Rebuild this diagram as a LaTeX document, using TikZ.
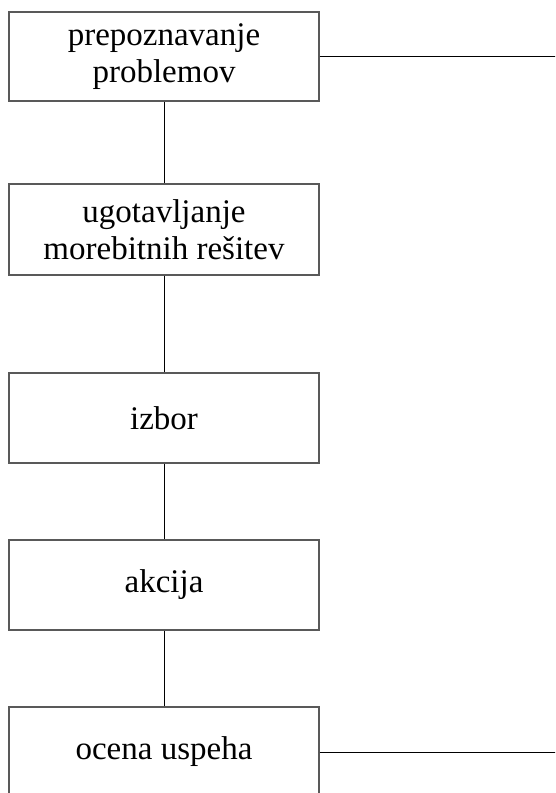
\documentclass[tikz,border=0pt]{standalone}
\usepackage{fontspec}
\setmainfont{Liberation Serif}
\begin{document}
\begin{tikzpicture}[x=1pt,y=-1pt,
  stage/.style={draw=black!65, line width=1.2pt, minimum width=310pt, minimum height=90pt,
    inner sep=0pt, align=center, font=\fontsize{33}{37}\selectfont},
  link/.style={draw=black, line width=0.8pt}]
\useasboundingbox (0,0) rectangle (555,793);
\clip (0,0) rectangle (555,793);
\node[stage, minimum height=89pt] (s1) at (164,56.5) {prepoznavanje\\problemov};
\node[stage, minimum height=91pt] (s2) at (164,229.5) {ugotavljanje\\morebitnih rešitev};
\node[stage] (s3) at (164,418) {izbor};
\node[stage] (s4) at (164,585) {akcija};
\node[stage] (s5) at (164,752) {ocena uspeha};
\coordinate (e1) at (556,56.5);
\coordinate (e5) at (556,752);
\draw[link] (s1) -- (s2);
\draw[link] (s2) -- (s3);
\draw[link] (s3) -- (s4);
\draw[link] (s4) -- (s5);
\draw[link] (s1.east) -- (e1);
\draw[link] (s5.east) -- (e5);
\end{tikzpicture}
\end{document}
